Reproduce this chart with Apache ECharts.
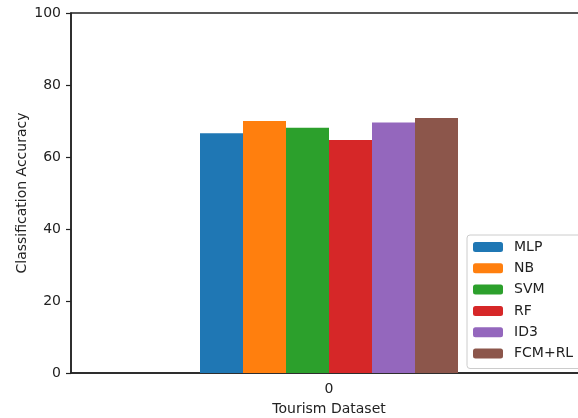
<!DOCTYPE html>
<html><head><meta charset="utf-8">
<script src="https://cdn.jsdelivr.net/npm/echarts@6/dist/echarts.min.js"></script>
<style>html,body{margin:0;padding:0;background:#fff;}#c{width:578px;height:418px;}</style>
</head><body><div id="c"></div>
<script>
var categories = ['0'];
var seriesNames = ['MLP', 'NB', 'SVM', 'RF', 'ID3', 'FCM+RL'];
var seriesValues = [66.6, 70.0, 68.1, 64.7, 69.6, 70.8];
var colors = ['#1f77b4', '#ff7f0e', '#2ca02c', '#d62728', '#9467bd', '#8c564b'];
var yTicks = [0, 20, 40, 60, 80, 100];

var font = 'DejaVu Sans';
var chart = echarts.init(document.getElementById('c'), null, {renderer: 'canvas'});
chart.setOption({
  animation: false,
  textStyle: {fontFamily: font},
  grid: {left: 71, top: 13, width: 516, height: 360, outerBoundsMode: 'none', containLabel: false,
         show: true, borderColor: '#222', borderWidth: 1.5, backgroundColor: 'transparent'},
  xAxis: {
    type: 'category', data: categories,
    name: 'Tourism Dataset', nameLocation: 'middle', nameGap: 29,
    nameTextStyle: {fontFamily: font, fontSize: 14, color: '#222'},
    axisLine: {lineStyle: {color: '#222', width: 1.5}},
    axisTick: {alignWithLabel: true, length: 5, lineStyle: {color: '#222', width: 1.2}},
    axisLabel: {fontFamily: font, fontSize: 14, color: '#222', margin: 9},
    splitLine: {show: false}
  },
  yAxis: {
    type: 'value', min: yTicks[0], max: yTicks[yTicks.length - 1], interval: 20,
    name: 'Classification Accuracy', nameLocation: 'middle', nameGap: 42, nameMoveOverlap: false,
    nameTextStyle: {fontFamily: font, fontSize: 14, color: '#222'},
    axisLine: {show: true, lineStyle: {color: '#222', width: 1.5}},
    axisTick: {show: true, length: 5, lineStyle: {color: '#222', width: 1.2}},
    axisLabel: {fontFamily: font, fontSize: 14, color: '#222', margin: 10},
    splitLine: {show: false}
  },
  legend: {
    orient: 'vertical', left: 467, top: 235,
    itemWidth: 30, itemHeight: 10, itemGap: 5.3,
    padding: [4, 8, 7, 6],
    backgroundColor: '#fff', borderColor: '#ccc', borderWidth: 1, borderRadius: 3,
    textStyle: {fontFamily: font, fontSize: 14, color: '#222', lineHeight: 16, padding: [0, 0, 0, 6]},
    data: seriesNames
  },
  series: seriesNames.map(function (n, i) {
    return {
      name: n, type: 'bar', data: [seriesValues[i]],
      barWidth: 43, barGap: '0%',
      itemStyle: {color: colors[i]}
    };
  })
});
</script></body></html>
